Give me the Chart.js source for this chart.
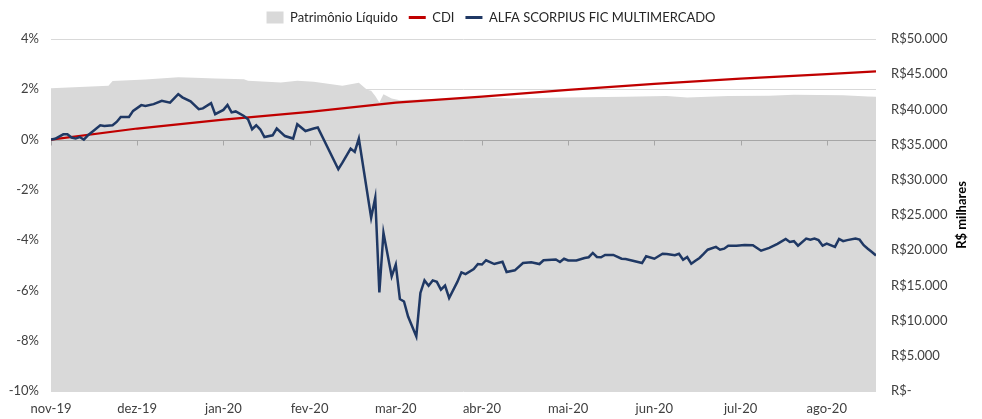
<!DOCTYPE html>
<html><head><meta charset="utf-8">
<script src="https://cdn.jsdelivr.net/npm/chart.js@4/dist/chart.umd.min.js"></script>
<style>html,body{margin:0;padding:0;background:#fff;overflow:hidden}#wrap{width:982px;height:419px}</style>
</head><body><div id="wrap"><canvas id="c" width="982" height="419"></canvas></div>
<script>
// Month tick labels (position = trading-day index of first session of month)
const monthLabels = ['nov-19','dez-19','jan-20','fev-20','mar-20','abr-20','mai-20','jun-20','jul-20','ago-20'];
const monthTickDay = [0,21,42,63,84,105,126,147,168,189];
const lastDay = 201;

// ALFA SCORPIUS FIC MULTIMERCADO – cumulative return (%)
const fundDay = [0,1,3,4,5,6,7,8,9,10,12,13,15,16,17,19,20,22,23,25,27,29,31,32,34,36,37,39,40,42,43,44,45,47,48,49,50,51,52,54,55,57,59,60,62,64,65,70,71,73,74,75,78,79,80,81,83,84,85,86,87,89,90,91,92,93,94,95,96,97,99,100,101,103,104,105,106,108,110,111,113,115,117,119,120,123,124,125,126,128,130,131,132,133,134,135,137,139,140,143,144,145,147,149,150,152,153,154,155,156,157,158,159,160,162,163,164,165,167,169,171,173,175,177,179,180,181,182,184,185,186,187,188,189,191,192,193,194,196,197,198,199,200,201];
const fundReturn = [0.00,0.03,0.21,0.21,0.08,0.04,0.10,0.00,0.17,0.30,0.57,0.54,0.57,0.70,0.90,0.90,1.14,1.37,1.34,1.41,1.54,1.47,1.81,1.68,1.52,1.21,1.24,1.45,1.01,1.18,1.38,1.08,1.12,0.94,0.81,0.41,0.57,0.40,0.10,0.17,0.44,0.14,0.04,0.61,0.34,0.44,0.48,-1.18,-0.92,-0.36,-0.49,0.04,-3.11,-2.31,-6.08,-3.71,-5.44,-4.97,-6.34,-6.44,-7.04,-7.83,-6.10,-5.60,-5.81,-5.60,-5.66,-5.97,-5.81,-6.30,-5.66,-5.28,-5.35,-5.15,-4.95,-4.97,-4.80,-4.95,-4.86,-5.27,-5.20,-4.91,-4.88,-4.95,-4.80,-4.77,-4.87,-4.74,-4.81,-4.81,-4.71,-4.68,-4.51,-4.67,-4.68,-4.59,-4.59,-4.74,-4.75,-4.87,-4.91,-4.64,-4.74,-4.54,-4.55,-4.60,-4.54,-4.78,-4.67,-4.94,-4.82,-4.71,-4.55,-4.38,-4.27,-4.38,-4.34,-4.22,-4.22,-4.19,-4.20,-4.42,-4.31,-4.15,-3.95,-4.07,-4.04,-4.22,-3.94,-3.98,-3.94,-4.00,-4.22,-4.14,-4.27,-3.95,-4.04,-4.00,-3.94,-3.98,-4.20,-4.34,-4.47,-4.61];

// CDI – cumulative (%)
const cdiDay = [0,21,42,63,84,105,126,147,168,189,201];
const cdiReturn = [0.00,0.44,0.79,1.10,1.47,1.71,1.98,2.22,2.42,2.60,2.71];

// Patrimônio Líquido (R$ milhares)
const plDay = [0,14,15,23,31,35,40,47,48,56,60,64,71,75,77,78,79,80,81,83,85,95,106,112,125,140,150,155,165,175,181,193,199,201];
const plValue = [43000,43350,44050,44250,44550,44500,44400,44300,44060,43830,44060,43920,43350,43800,42780,42640,41920,40980,42160,41550,41310,41500,41700,41550,41700,41800,41920,41700,41920,41950,42070,42020,41850,41780];

const pts = (xs, ys) => xs.map((x, i) => ({x, y: ys[i]}));
const brl = v => v === 0 ? 'R$-' : 'R$' + String(v).replace(/\B(?=(\d{3})+(?!\d))/g, '.');

Chart.defaults.font.family = 'Lato, "Open Sans", sans-serif';
Chart.defaults.font.size = 13;
Chart.defaults.color = '#404040';

const zeroAxis = {
  id: 'zeroAxis',
  afterDatasetDraw(chart, args) {
    if (args.index !== 0) return;
    const {ctx, chartArea: a, scales} = chart;
    const y = Math.round(scales.y.getPixelForValue(0)) + 0.5;
    ctx.save();
    ctx.strokeStyle = '#a6a6a6';
    ctx.lineWidth = 1;
    ctx.beginPath();
    ctx.moveTo(a.left, y); ctx.lineTo(a.right, y);
    monthTickDay.forEach(d => {
      const x = Math.round(scales.x.getPixelForValue(d)) + 0.5;
      ctx.moveTo(x, y); ctx.lineTo(x, y + 5);
    });
    ctx.stroke();
    ctx.restore();
  }
};
const legendGap = {
  id: 'legendGap',
  afterInit(chart) {
    const lg = chart.legend;
    if (!lg || lg._gapPatched) return;
    const f = lg.fit;
    lg.fit = function () { f.call(this); this.height += 5; };
    lg._gapPatched = true;
  }
};
const rightTitle = {
  id: 'rightTitle',
  afterDraw(chart) {
    const {ctx, chartArea: a} = chart;
    ctx.save();
    ctx.translate(962, (a.top + a.bottom) / 2);
    ctx.rotate(-Math.PI / 2);
    ctx.font = 'bold 13px Lato, sans-serif';
    ctx.fillStyle = '#000';
    ctx.textAlign = 'center';
    ctx.textBaseline = 'middle';
    ctx.fillText('R$ milhares', 0, 0);
    ctx.restore();
  }
};

new Chart(document.getElementById('c'), {
  type: 'line',
  data: {
    datasets: [
      {label: 'Patrimônio Líquido', data: pts(plDay, plValue), yAxisID: 'y1', fill: 'origin',
       backgroundColor: '#d9d9d9', borderColor: '#d9d9d9', borderWidth: 0, pointRadius: 0, order: 3},
      {label: 'CDI', data: pts(cdiDay, cdiReturn), yAxisID: 'y', borderColor: '#c00000',
       backgroundColor: '#c00000', borderWidth: 2.25, pointRadius: 0, fill: false, order: 2},
      {label: 'ALFA SCORPIUS FIC MULTIMERCADO', data: pts(fundDay, fundReturn), yAxisID: 'y',
       borderColor: '#1f3864', backgroundColor: '#1f3864', borderWidth: 2.5, pointRadius: 0, fill: false, order: 1}
    ]
  },
  options: {
    responsive: false, animation: false, events: [],
    layout: {padding: {top: 0, left: 0, right: 0, bottom: 0}},
    plugins: {
      tooltip: {enabled: false},
      legend: {
        position: 'top',
        labels: {
          usePointStyle: true, pointStyleWidth: 17, boxHeight: 12, padding: 11,
          color: '#262626',
          generateLabels(chart) {
            const items = Chart.defaults.plugins.legend.labels.generateLabels(chart);
            items.sort((a, b) => a.datasetIndex - b.datasetIndex);
            items.forEach(it => {
              if (it.datasetIndex === 0) { it.pointStyle = 'rect'; it.lineWidth = 0; it.fillStyle = '#d9d9d9'; it.strokeStyle = '#d9d9d9'; }
              else { it.pointStyle = 'line'; it.lineWidth = 3; }
            });
            return items;
          }
        }
      }
    },
    scales: {
      x: {
        type: 'linear', min: 0, max: lastDay,
        grid: {display: false, drawTicks: false}, border: {display: false},
        afterBuildTicks: s => { s.ticks = monthTickDay.map(v => ({value: v})); },
        ticks: {autoSkip: false, maxRotation: 0, padding: 10, callback: (v, i) => monthLabels[i]},
        afterFit: s => { s.height = 28; }
      },
      y: {
        position: 'left', min: -10, max: 4,
        ticks: {stepSize: 2, padding: 12, callback: v => v + '%'},
        grid: {color: '#d9d9d9', drawTicks: false}, border: {display: false},
        afterFit: s => { s.width = 51; }
      },
      y1: {
        position: 'right', min: 0, max: 50000,
        ticks: {stepSize: 5000, padding: 15, callback: v => brl(v)},
        grid: {display: false, drawTicks: false}, border: {display: false},
        afterFit: s => { s.width = 106; }
      }
    }
  },
  plugins: [zeroAxis, legendGap, rightTitle]
});
</script>
</body></html>
